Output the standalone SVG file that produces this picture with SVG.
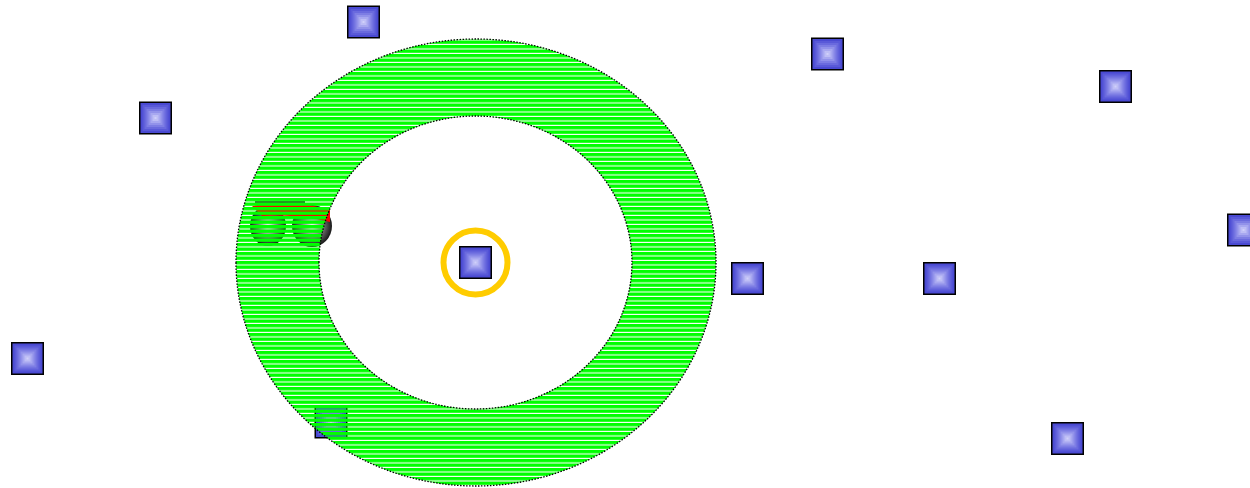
<svg xmlns="http://www.w3.org/2000/svg" xmlns:xlink="http://www.w3.org/1999/xlink" width="1250" height="488" viewBox="0 0 1250 488">
  <style>
    .ring { fill: url(#stripes); fill-rule: evenodd; stroke: #000; stroke-width: 1.3; stroke-dasharray: 1.5 1.5; }
    .focus { fill: none; stroke: #ffcc00; stroke-width: 6; }
  </style>
  <defs>
    <pattern id="stripes" patternUnits="userSpaceOnUse" x="0" y="0" width="20" height="4.5">
      <rect x="0" y="0" width="20" height="3.4" fill="#00ff00"/>
    </pattern>
    <radialGradient id="ball" cx="0.5" cy="0.5" r="0.55">
      <stop offset="0" stop-color="#ffffff"/>
      <stop offset="0.5" stop-color="#777777"/>
      <stop offset="1" stop-color="#000000"/>
    </radialGradient>
    <g id="sq">
      <rect x="-16.5" y="-16.5" width="33" height="33" fill="#000"/>
      <rect x="-15" y="-15" width="30" height="30" fill="#4a4ad2"/>
      <rect x="-13" y="-13" width="26" height="26" fill="#5959d8"/>
      <rect x="-11" y="-11" width="22" height="22" fill="#6a6ade"/>
      <rect x="-9" y="-9" width="18" height="18" fill="#7d7de4"/>
      <rect x="-7" y="-7" width="14" height="14" fill="#9292ea"/>
      <rect x="-5" y="-5" width="10" height="10" fill="#a8a8f0"/>
      <rect x="-3" y="-3" width="6" height="6" fill="#bebef5"/>
      <rect x="-1" y="-1" width="2" height="2" fill="#d0d0fa"/>
    </g>
  </defs>
  <rect width="1250" height="488" fill="#fff"/>

  <g id="connectors"></g>

  <g id="hidden-object">
    <ellipse cx="268" cy="226" rx="18" ry="20" fill="url(#ball)"/>
    <ellipse cx="312" cy="226" rx="20" ry="21" fill="url(#ball)"/>
    <path d="M252 206 Q290 198 330 210 L330 222 Q300 214 262 216 Z" fill="#ff0000"/>
    <path d="M255 202 L305 202" stroke="#000" stroke-width="1.5"/>
  </g>
  <g id="node-bottom-hidden"><use xlink:href="#sq" x="331" y="422"/></g>

  <g id="zone">
    <path class="ring" d="M236 262.5 A240 223.5 0 1 0 716 262.5 A240 223.5 0 1 0 236 262.5 Z M319 262.5 A156.5 146.5 0 1 1 632 262.5 A156.5 146.5 0 1 1 319 262.5 Z"/>
  </g>

  <g id="node-center"><use xlink:href="#sq" x="475.5" y="262.5"/><circle class="focus" cx="475.5" cy="262.5" r="32"/></g>
  <g id="node-1"><use xlink:href="#sq" x="363.5" y="22"/></g>
  <g id="node-2"><use xlink:href="#sq" x="155.5" y="118"/></g>
  <g id="node-3"><use xlink:href="#sq" x="827.5" y="54"/></g>
  <g id="node-4"><use xlink:href="#sq" x="1115.5" y="86.5"/></g>
  <g id="node-5"><use xlink:href="#sq" x="1243.5" y="230"/></g>
  <g id="node-6"><use xlink:href="#sq" x="747.5" y="278.5"/></g>
  <g id="node-7"><use xlink:href="#sq" x="939.5" y="278.5"/></g>
  <g id="node-8"><use xlink:href="#sq" x="27.5" y="358.5"/></g>
  <g id="node-9"><use xlink:href="#sq" x="1067.5" y="438.5"/></g>
</svg>
